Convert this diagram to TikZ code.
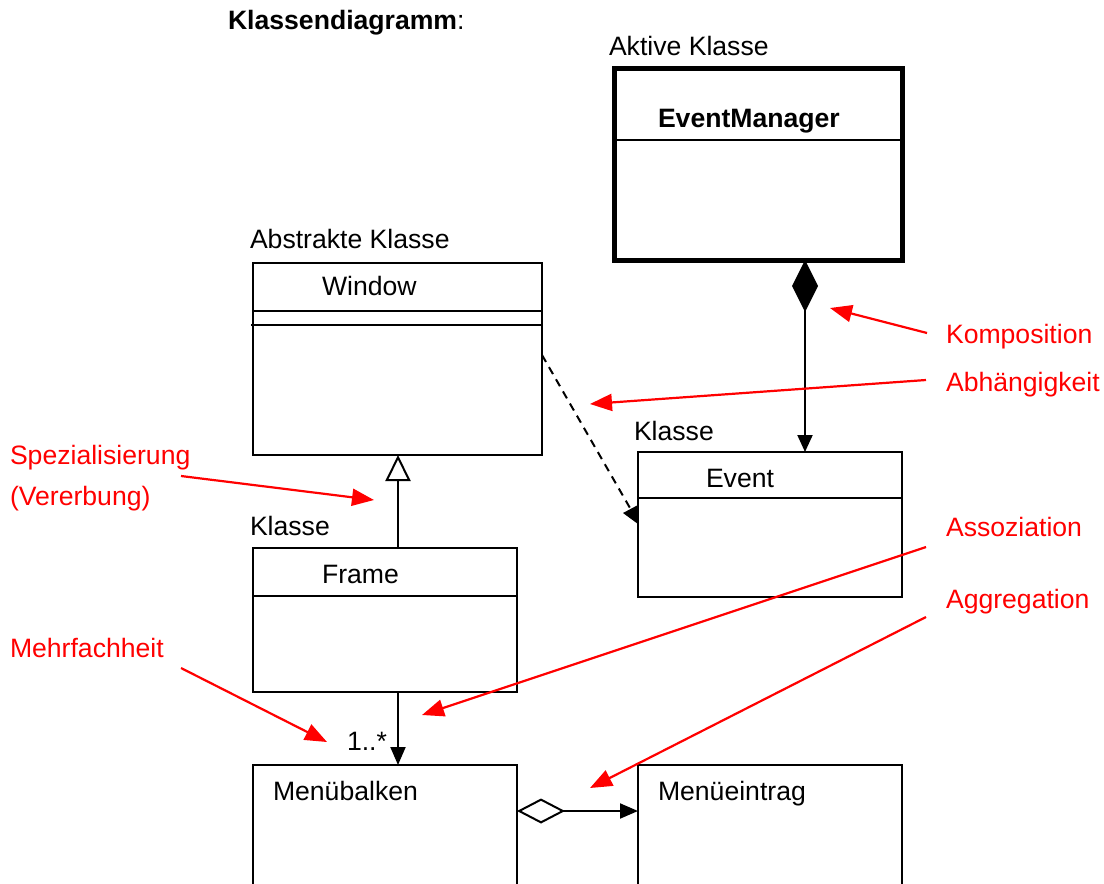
\documentclass[tikz,border=0pt]{standalone}
\usepackage{fontspec}
\setmainfont{Liberation Sans}
\usetikzlibrary{arrows.meta,calc}

\begin{document}
\begin{tikzpicture}[x=1pt,y=-1pt,
  txt/.style={anchor=base west,inner sep=0pt,outer sep=0pt,font=\fontsize{26.6}{30}\selectfont},
  note/.style={txt,text=red},
  umlbox/.style={draw,line width=2pt,fill=white,inner sep=0pt,outer sep=0pt,anchor=north west},
  activebox/.style={umlbox,line width=5pt},
  divider/.style={line width=2pt},
  pointer/.style={red,line width=2.2pt,-{Triangle[length=22pt,width=17pt]}},
  link/.style={line width=2pt},
]
\useasboundingbox (0,0) rectangle (1104,884);
\clip (0,0) rectangle (1104,884);

% heading
\node[txt] (title) at (228,29) {\textbf{Klassendiagramm}:};

% class boxes
\node[activebox,minimum width=288pt,minimum height=192pt] (em) at (614,68) {};
\node[umlbox,minimum width=289pt,minimum height=192pt] (win) at (253,263) {};
\node[umlbox,minimum width=264pt,minimum height=145pt] (ev) at (638,452) {};
\node[umlbox,minimum width=264pt,minimum height=144pt] (fr) at (253,548) {};
\node[umlbox,minimum width=264pt,minimum height=121pt] (mb) at (253,765) {};
\node[umlbox,minimum width=264pt,minimum height=121pt] (me) at (638,765) {};

% compartments
\draw[line width=1.5pt] ($(em.north west)+(0,72)$) -- ($(em.north east)+(0,72)$);
\draw[divider] ($(win.north west)+(0,48)$) -- ($(win.north east)+(0,48)$);
\draw[divider] ($(win.north west)+(-2,62)$) -- ($(win.north east)+(0,62)$);
\draw[divider] ($(ev.north west)+(0,46)$) -- ($(ev.north east)+(0,46)$);
\draw[divider] ($(fr.north west)+(0,48)$) -- ($(fr.north east)+(0,48)$);

% stereotype captions and class names
\node[txt] (lactive) at (609,55) {Aktive Klasse};
\node[txt] (nem) at (658,127) {\textbf{EventManager}};
\node[txt] (labstract) at (250,248) {Abstrakte Klasse};
\node[txt] (nwin) at (322,295) {Window};
\node[txt] (lev) at (634,440) {Klasse};
\node[txt] (nev) at (706,487) {Event};
\node[txt] (lfr) at (250,535) {Klasse};
\node[txt] (nfr) at (322,583) {Frame};
\node[txt] (nmb) at (273,800) {Menübalken};
\node[txt] (nme) at (658,800) {Menüeintrag};
\node[txt] (mult) at (347,750) {1..*};

% composition EventManager -> Event
\coordinate (cmp) at ($(em.south west)+(191,0)$);
\draw[link,{Diamond[length=52pt,width=26pt,fill=black]}-{Triangle[length=17pt,width=15pt]}]
  (cmp) -- (cmp |- ev.north);

% dependency Window -> Event
\coordinate (dep1) at ($(win.north east)+(0,92)$);
\coordinate (dep2) at ($(ev.north west)+(-8,56)$);
\draw[link,dashed,dash pattern=on 8pt off 6pt] (dep1) -- (dep2);
\fill ($(ev.north west)+(-15,61)$) -- ($(ev.north west)+(0,53)$) -- ($(ev.north west)+(0,72)$) -- cycle;

% generalisation Frame -> Window
\coordinate (gen) at ($(fr.north west)+(145,0)$);
\draw[link,-{Triangle[open,length=26pt,width=25pt,fill=white]}] (gen) -- (gen |- win.south);

% association Frame -> Menübalken
\coordinate (asc) at ($(fr.south west)+(145,0)$);
\draw[link,-{Triangle[length=18pt,width=15pt]}] (asc) -- (asc |- mb.north);

% aggregation Menübalken -> Menüeintrag
\coordinate (agg) at ($(mb.north east)+(0,46)$);
\draw[link,{Diamond[open,length=48pt,width=25pt,fill=white]}-{Triangle[length=18pt,width=15pt]}]
  (agg) -- (agg -| me.west);

% annotations
\node[note] (tkomp) at (946,343) {Komposition};
\node[note] (tabh) at (946,391) {Abhängigkeit};
\node[note] (tspez) at (10,464) {Spezialisierung};
\node[note] (tvererb) at (10,505) {(Vererbung)};
\node[note] (tasso) at (946,536) {Assoziation};
\node[note] (taggr) at (946,608) {Aggregation};
\node[note] (tmehr) at (10,657) {Mehrfachheit};

\coordinate (pkomp) at (830,308);
\coordinate (pabh) at (590,404);
\coordinate (pspez) at (374,500);
\coordinate (passo) at (422,715);
\coordinate (paggr) at (590,788);
\coordinate (pmehr) at (327,742);

\draw[pointer] ($(tkomp.base west)+(-19,-10)$) -- (pkomp);
\draw[pointer] ($(tabh.base west)+(-20,-11)$) -- (pabh);
\draw[pointer] ($(tspez.base west)+(171,12)$) -- (pspez);
\draw[pointer] ($(tasso.base west)+(-20,11)$) -- (passo);
\draw[pointer] ($(taggr.base west)+(-20,9)$) -- (paggr);
\draw[pointer] ($(tmehr.base west)+(171,11)$) -- (pmehr);
\end{tikzpicture}
\end{document}
